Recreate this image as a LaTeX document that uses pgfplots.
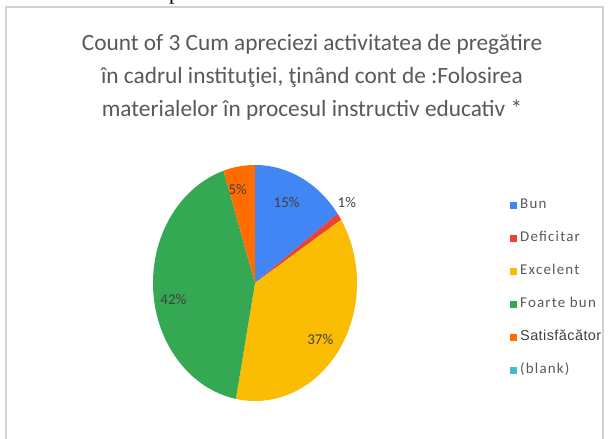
\documentclass[border=0pt]{standalone}
\usepackage{pgfplots}
\pgfplotsset{compat=1.18}
\usepackage{pgfplotstable}
\usepackage{fontspec}
\setmainfont{Carlito}
\newfontfamily\carlito{Carlito}
\newfontfamily\legf{Carlito}[LetterSpace=8]
\newfontfamily\arialf{Liberation Sans}[LetterSpace=3]
\newfontfamily\timesf{Liberation Serif}
\definecolor{cBun}{HTML}{4285F4}
\definecolor{cDef}{HTML}{EA4335}
\definecolor{cExc}{HTML}{FBBC04}
\definecolor{cFb}{HTML}{34A853}
\definecolor{cSat}{HTML}{FF6D01}
\definecolor{cBlank}{HTML}{46BDC6}
\definecolor{titlec}{HTML}{595959}
\definecolor{labc}{HTML}{404040}

\pgfplotstableread{
name value color
Bun 15 cBun
Deficitar 1 cDef
Excelent 37 cExc
Foarte 42 cFb
Satisfacator 5 cSat
}\piedata

\begin{document}
\begin{tikzpicture}[x=1bp,y=1bp]
\path[use as bounding box] (0,0) rectangle (612,439);
\begin{scope}
\clip (0,0) rectangle (612,439);
\fill[white] (0,0) rectangle (612,439);
% remnant of the document text above the chart
\node[anchor=base west, inner sep=0, font=\timesf\fontsize{22}{22}\selectfont] at (35,439.5) {materialelor în procesul instructiv educativ.};
% chart frame
\draw[black!18, line width=1.3] (6,-5) -- (6,432) -- (603,432) -- (603,-5);
% title
\node[align=center, text=titlec, font=\carlito\fontsize{23.4}{33}\selectfont] at (312,362)
 {Count of 3 Cum apreciezi activitatea de pregătire\\ în cadrul instituţiei, ţinând cont de :Folosirea\\ materialelor în procesul instructiv educativ *};

\begin{axis}[at={(255bp,156bp)}, anchor=center, scale only axis,
  width=204bp, height=236bp, xmin=-1, xmax=1, ymin=-1, ymax=1,
  hide axis, clip=false,
  legend image code/.code={\fill[#1] (0bp,-3.5bp) rectangle (7bp,3.5bp);},
  legend style={at={(axis description cs:1.75,0.852)}, anchor=north west,
    draw=none, fill=none, inner sep=0pt, row sep=23bp,
    font=\legf\fontsize{15}{15}\selectfont, text=titlec,
    nodes={inner sep=0pt, text height=8bp, text depth=2bp, anchor=west},
    /tikz/every odd column/.style={column sep=3bp}},
  legend cell align=left]
\gdef\cum{0}
\pgfplotsinvokeforeach{0,...,4}{
  \pgfplotstablegetelem{#1}{value}\of\piedata \let\val\pgfplotsretval
  \pgfplotstablegetelem{#1}{color}\of\piedata \let\col\pgfplotsretval
  \pgfmathsetmacro\va{90-3.6*\cum}
  \pgfmathsetmacro\vb{90-3.6*(\cum+\val)}
  \pgfmathsetmacro\newcum{\cum+\val}\xdef\cum{\newcum}
  \edef\temp{\noexpand\addplot[fill=\col, draw=none, domain=\vb:\va, samples=90] ({cos(x)},{sin(x)}) -- (axis cs:0,0) -- cycle;}
  \temp
}
\addlegendimage{fill=cBlank, draw=none}
\legend{Bun, Deficitar, Excelent, Foarte bun, {\arialf\fontsize{14.5}{14.5}\selectfont\color{labc}Satisfăcător}, (blank)}
\begin{scope}[font=\carlito\fontsize{15}{15}\selectfont, text=labc]
\node at (axis cs:0.31,0.68) {15\%};
\node at (axis cs:0.90,0.68) {1\%};
\node at (axis cs:0.64,-0.48) {37\%};
\node at (axis cs:-0.80,-0.14) {42\%};
\node at (axis cs:-0.17,0.79) {5\%};
\end{scope}
\end{axis}
\end{scope}
\end{tikzpicture}
\end{document}
